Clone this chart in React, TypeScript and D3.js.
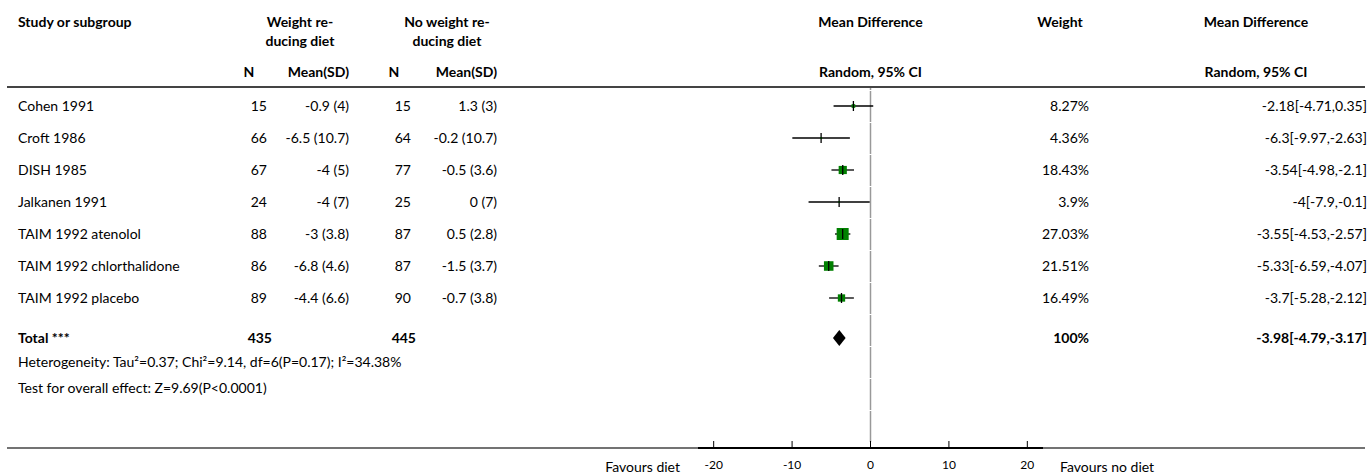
import React from 'react';
import * as d3 from 'd3';

const width = 1372;
const height = 476;
const font = 'Lato, "Source Sans Pro", sans-serif';

const studies = ['Cohen 1991', 'Croft 1986', 'DISH 1985', 'Jalkanen 1991', 'TAIM 1992 atenolol', 'TAIM 1992 chlorthalidone', 'TAIM 1992 placebo'];
const nDiet = [15, 66, 67, 24, 88, 86, 89];
const meanDiet = ['-0.9 (4)', '-6.5 (10.7)', '-4 (5)', '-4 (7)', '-3 (3.8)', '-6.8 (4.6)', '-4.4 (6.6)'];
const nNoDiet = [15, 64, 77, 25, 87, 87, 90];
const meanNoDiet = ['1.3 (3)', '-0.2 (10.7)', '-0.5 (3.6)', '0 (7)', '0.5 (2.8)', '-1.5 (3.7)', '-0.7 (3.8)'];
const md = [-2.18, -6.3, -3.54, -4, -3.55, -5.33, -3.7];
const lo = [-4.71, -9.97, -4.98, -7.9, -4.53, -6.59, -5.28];
const hi = [0.35, -2.63, -2.1, -0.1, -2.57, -4.07, -2.12];
const weights = [8.27, 4.36, 18.43, 3.9, 27.03, 21.51, 16.49];

const total = { n1: 435, n2: 445, md: -3.98, lo: -4.79, hi: -3.17, weight: '100%' };
const heterogeneity = 'Heterogeneity: Tau²=0.37; Chi²=9.14, df=6(P=0.17); I²=34.38%';
const overall = 'Test for overall effect: Z=9.69(P<0.0001)';
const axisTicks = [-20, -10, 0, 10, 20];

const App = () => {
  const x = d3.scaleLinear().domain([-22, 22]).range([698, 1043]);
  const y = d3.scaleLinear().domain([0, 1]).range([106, 138]);
  const box = d3.scaleLinear().domain([0, 27.03]).range([0, 12]);
  const lineY = 448;
  const totalY = 338;

  // zero line is drawn as one segment per row, with a 1px gap between
  const zeroSegs = d3.range(-1, 11).map(i => [y(i) - 16 + 1, y(i) + 16]);

  const txt = { fontFamily: font, fontSize: 14, fill: '#000' };
  const bold = { ...txt, fontWeight: 700 };

  return (
    <svg width={width} height={height} style={{ position: 'absolute', left: 0, top: 0 }}>
      {/* headers */}
      <text x={18} y={27} style={bold}>Study or subgroup</text>
      <text x={300} y={27} textAnchor="middle" style={bold}>Weight re-</text>
      <text x={300} y={46} textAnchor="middle" style={bold}>ducing diet</text>
      <text x={447} y={27} textAnchor="middle" style={bold}>No weight re-</text>
      <text x={447} y={46} textAnchor="middle" style={bold}>ducing diet</text>
      <text x={249} y={77} textAnchor="middle" style={bold}>N</text>
      <text x={349} y={77} textAnchor="end" style={bold}>Mean(SD)</text>
      <text x={394} y={77} textAnchor="middle" style={bold}>N</text>
      <text x={497} y={77} textAnchor="end" style={bold}>Mean(SD)</text>
      <text x={x(0)} y={27} textAnchor="middle" style={bold}>Mean Difference</text>
      <text x={x(0)} y={77} textAnchor="middle" style={bold}>Random, 95% CI</text>
      <text x={1060} y={27} textAnchor="middle" style={bold}>Weight</text>
      <text x={1256} y={27} textAnchor="middle" style={bold}>Mean Difference</text>
      <text x={1256} y={77} textAnchor="middle" style={bold}>Random, 95% CI</text>

      <line x1={7} x2={1365} y1={87} y2={87} stroke="#444" strokeWidth={2} />

      {zeroSegs.filter(s => s[0] < lineY).map((s, i) => (
        <line key={i} x1={x(0)} x2={x(0)} y1={Math.max(s[0], 88)} y2={Math.min(s[1], lineY)} stroke="#999" strokeWidth={1.5} />
      ))}

      {studies.map((s, i) => {
        const cy = y(i);
        const b = box(weights[i]);
        return (
          <g key={s}>
            <text x={18} y={cy + 5} style={txt}>{s}</text>
            <text x={267} y={cy + 5} textAnchor="end" style={txt}>{nDiet[i]}</text>
            <text x={349} y={cy + 5} textAnchor="end" style={txt}>{meanDiet[i]}</text>
            <text x={411} y={cy + 5} textAnchor="end" style={txt}>{nNoDiet[i]}</text>
            <text x={497} y={cy + 5} textAnchor="end" style={txt}>{meanNoDiet[i]}</text>
            <line x1={x(lo[i])} x2={x(hi[i])} y1={cy} y2={cy} stroke="#000" strokeWidth={1.3} />
            <rect x={x(md[i]) - b / 2} y={cy - b / 2} width={b} height={b} fill="#008000" />
            <line x1={x(md[i])} x2={x(md[i])} y1={cy - 5} y2={cy + 5} stroke="#000" strokeWidth={1.3} />
            <text x={1089} y={cy + 5} textAnchor="end" style={txt}>{weights[i] + '%'}</text>
            <text x={1367} y={cy + 5} textAnchor="end" style={txt}>{`${md[i]}[${lo[i]},${hi[i]}]`}</text>
          </g>
        );
      })}

      {/* total */}
      <text x={18} y={totalY + 5} style={bold}>Total ***</text>
      <text x={272} y={totalY + 5} textAnchor="end" style={bold}>{total.n1}</text>
      <text x={416} y={totalY + 5} textAnchor="end" style={bold}>{total.n2}</text>
      <path
        d={`M${x(total.lo)},${totalY} L${x(total.md)},${totalY - 8} L${x(total.hi)},${totalY} L${x(total.md)},${totalY + 8} Z`}
        fill="#000"
      />
      <text x={1089} y={totalY + 5} textAnchor="end" style={bold}>{total.weight}</text>
      <text x={1367} y={totalY + 5} textAnchor="end" style={bold}>{`${total.md}[${total.lo},${total.hi}]`}</text>

      <text x={18} y={367} style={txt}>{heterogeneity}</text>
      <text x={18} y={393} style={txt}>{overall}</text>

      {/* axis */}
      <line x1={7} x2={1365} y1={lineY} y2={lineY} stroke="#444" strokeWidth={1.5} />
      <line x1={x(-22)} x2={x(22)} y1={lineY} y2={lineY} stroke="#000" strokeWidth={2} />
      {axisTicks.map(t => (
        <g key={t}>
          <line x1={x(t)} x2={x(t)} y1={lineY - 7} y2={lineY} stroke="#000" strokeWidth={1} />
          <text x={x(t)} y={lineY + 21} textAnchor="middle" style={{ ...txt, fontSize: 12 }}>{t}</text>
        </g>
      ))}
      <text x={680} y={lineY + 24} textAnchor="end" style={txt}>Favours diet</text>
      <text x={1060} y={lineY + 24} style={txt}>Favours no diet</text>
    </svg>
  );
};

export default App;
